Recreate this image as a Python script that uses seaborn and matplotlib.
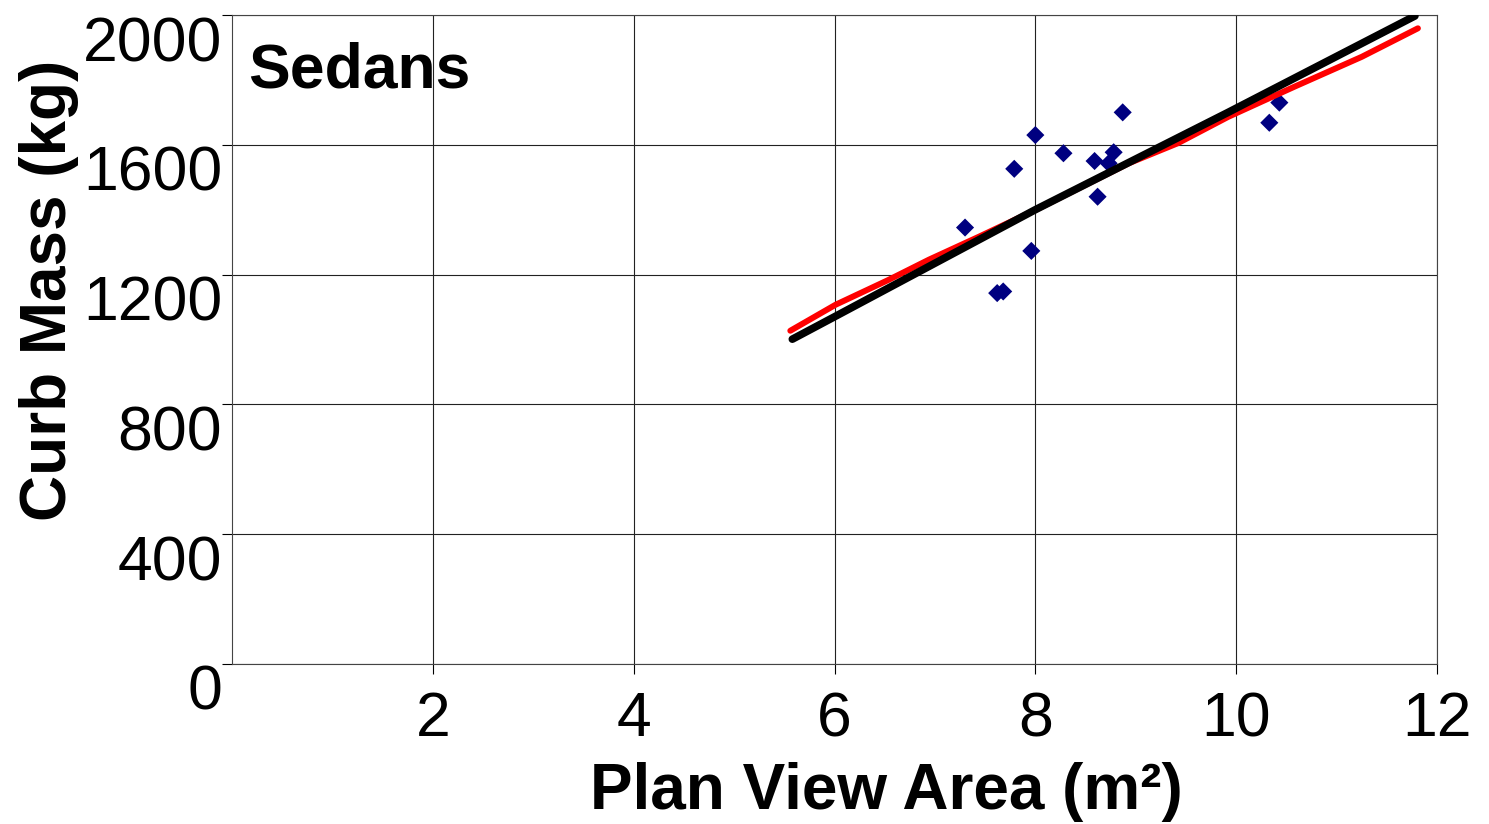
import matplotlib
matplotlib.use("Agg")
import matplotlib.pyplot as plt
import numpy as np
import pandas as pd
import seaborn as sns

# Sedan data: plan view area (m^2) vs curb mass (kg)
area = [7.30, 7.62, 7.68, 7.79, 7.96, 8.00, 8.28, 8.59, 8.62, 8.73, 8.78, 8.87, 10.33, 10.43]
mass = [1345, 1143, 1148, 1526, 1273, 1630, 1574, 1550, 1440, 1543, 1577, 1700, 1668, 1730]

# red curve
red_x = [5.56, 6.01, 6.54, 6.94, 7.44, 8.00, 8.60, 8.93, 9.42, 9.92, 10.58, 11.25, 11.81]
red_y = [1027, 1107, 1184, 1246, 1317, 1399, 1492, 1543, 1605, 1686, 1779, 1871, 1959]

# black fit line
fit_x = [5.58, 6.00, 8.00, 9.92, 11.78]
fit_y = [1001, 1070, 1400, 1700, 1997]

x_ticks = [2, 4, 6, 8, 10, 12]
y_ticks = [0, 400, 800, 1200, 1600, 2000]

sns.set_theme(style="white")
plt.rcParams['font.family'] = ['Liberation Sans', 'DejaVu Sans']
plt.rcParams['text.color'] = 'black'
plt.rcParams['axes.labelcolor'] = 'black'
plt.rcParams['xtick.color'] = 'black'
plt.rcParams['ytick.color'] = 'black'

pts = pd.DataFrame({'area': area, 'mass': mass})
red = pd.DataFrame({'x': red_x, 'y': red_y})
fit = pd.DataFrame({'x': fit_x, 'y': fit_y})

fig = plt.figure(figsize=(14.89, 8.24), dpi=100)
ax = fig.add_axes([232 / 1489, 1 - 664 / 824, (1437 - 232) / 1489, (664 - 15) / 824])

sns.scatterplot(data=pts, x='area', y='mass', marker='D', s=85, color='#000080',
                edgecolor='none', ax=ax, zorder=3)
sns.lineplot(data=red, x='x', y='y', color='#ff0000', lw=4.3, sort=False,
             estimator=None, ax=ax, zorder=4)
sns.lineplot(data=fit, x='x', y='y', color='black', lw=5.5, sort=False,
             estimator=None, ax=ax, zorder=5)

ax.set_xlim(0, 12)
ax.set_ylim(0, 2000)
ax.set_xticks(x_ticks)
ax.set_yticks(y_ticks)
ax.set_xticklabels([str(t) for t in x_ticks], fontsize=45)
ax.set_yticklabels([str(t) for t in y_ticks], fontsize=45, va='top')
ax.tick_params(axis='both', direction='out', length=7, width=0.8, color='black',
               bottom=True, left=True)
ax.tick_params(axis='x', pad=12)
ax.tick_params(axis='y', pad=0)

ax.grid(True, color='#222222', lw=0.8)
for s in ax.spines.values():
    s.set_color('#444444')
    s.set_linewidth(0.8)

ax.set_xlabel('Plan View Area (m²)', fontsize=46, fontweight='bold')
ax.set_ylabel('Curb Mass (kg)', fontsize=46, fontweight='bold')
ax.xaxis.set_label_coords(0.543, -0.197)
ax.xaxis.label.set_va('center')
ax.yaxis.set_label_coords(-0.152, 0.576)
ax.yaxis.label.set_va('center')

ax.text(0.0133, 0.889, 'Sedans', transform=ax.transAxes, fontsize=45,
        fontweight='bold', va='baseline', ha='left')

fig.savefig('out.png', dpi=100)
